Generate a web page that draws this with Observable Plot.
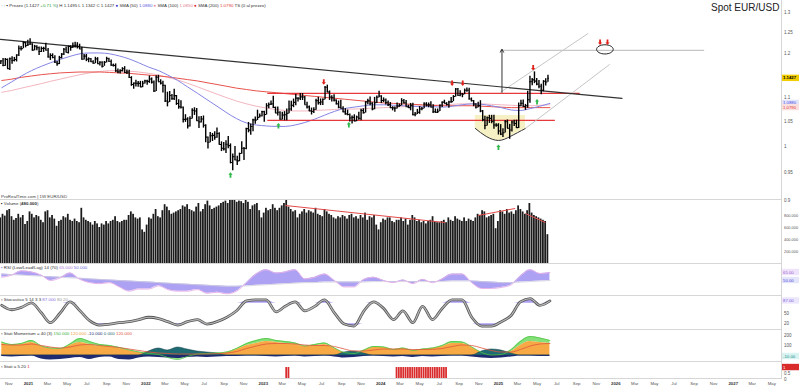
<!DOCTYPE html>
<html><head><meta charset="utf-8">
<script src="https://cdn.jsdelivr.net/npm/d3@7"></script>
<script src="https://cdn.jsdelivr.net/npm/@observablehq/plot@0.6"></script>
<style>
html,body{margin:0;padding:0;background:#fff;}
#c{position:relative;width:799px;height:387px;overflow:hidden;font-family:"Liberation Sans",Arial,sans-serif;}
#c svg{position:absolute;left:0;}
</style></head><body><div id="c"></div>
<script>
// ---------- weekly EUR/USD bars (week of 2020-10-05 .. week of 2025-06-02) ----------
const weekStart = "2020-10-07";
const firstOpen = 1.1780;
const closes = [
1.1826,1.1717,1.1860,1.1647, 1.1876,1.1833,1.1857,1.1962, 1.2121,1.2113,1.2256,1.2187,
1.2216,1.2222,1.2077,1.2170,1.2136, 1.2045,1.2118,1.2119,1.2074, 1.1915,1.1952,1.1904,1.1794, 1.1761,1.1900,1.1983,1.2097,1.2020, 1.2165,1.2143,1.2180,1.2193, 1.2166,1.2105,1.1864,1.1935, 1.1864,1.1874,1.1808,1.1770,1.1870, 1.1762,1.1795,1.1700,1.1794, 1.1880,1.1812,1.1726,1.1719, 1.1596,1.1572,1.1601,1.1645,1.1558, 1.1568,1.1445,1.1290,1.1320, 1.1315,1.1316,1.1238,1.1318,1.1370,
1.1360,1.1412,1.1344,1.1145, 1.1452,1.1350,1.1320,1.1270, 1.0931,1.0910,1.1050,1.0983, 1.1046,1.0877,1.0812,1.0797,1.0545, 1.0550,1.0412,1.0562,1.0734, 1.0718,1.0518,1.0494,1.0553, 1.0425,1.0184,1.0082,1.0212,1.0220, 1.0182,1.0257,1.0038,0.9964, 0.9953,1.0042,1.0015,0.9689,0.9802, 0.9739,0.9722,0.9862,0.9965, 0.9960,1.0355,1.0325,1.0398, 1.0535,1.0530,1.0585,1.0620,1.0705,
1.0645,1.0830,1.0856,1.0869, 1.0795,1.0677,1.0694,1.0548, 1.0635,1.0641,1.0670,1.0760,1.0840, 1.0902,1.0993,1.0990,1.1020, 1.1018,1.0850,1.0805,1.0721, 1.0708,1.0749,1.0940,1.0894,1.0910, 1.0967,1.1228,1.1125,1.1016, 1.1005,1.0949,1.0871,1.0798, 1.0775,1.0700,1.0658,1.0645,1.0573, 1.0587,1.0512,1.0594,1.0565, 1.0730,1.0682,1.0912,1.0940, 1.0882,1.0762,1.0895,1.1012,1.1039,
1.0942,1.0951,1.0898,1.0854, 1.0788,1.0784,1.0777,1.0820, 1.0838,1.0938,1.0890,1.0808,1.0790, 1.0837,1.0643,1.0656,1.0693, 1.0760,1.0771,1.0868,1.0846,1.0849, 1.0801,1.0703,1.0693,1.0713, 1.0841,1.0907,1.0883,1.0855, 1.0911,1.0918,1.1028,1.1192,1.1048, 1.1083,1.1076,1.1163,1.1165, 1.0975,1.0936,1.0866,1.0797, 1.0833,1.0719,1.0540,1.0418,1.0578, 1.0566,1.0502,1.0429,1.0427,
1.0308,1.0244,1.0273,1.0497,1.0362, 1.0328,1.0492,1.0459,1.0375, 1.0833,1.0880,1.0815,1.0830, 1.0960,1.1355,1.1393,1.1366, 1.1298,1.1253,1.1165,1.1364,1.1347, 1.1427];
const highs = [
1.1830,1.1880,1.1880,1.1870, 1.1892,1.1920,1.1905,1.1965, 1.2177,1.2163,1.2273,1.2260,
1.2310,1.2349,1.2230,1.2190,1.2180, 1.2150,1.2150,1.2145,1.2243, 1.2113,1.1990,1.1990,1.1945, 1.1810,1.1930,1.1995,1.2117,1.2150, 1.2172,1.2180,1.2245,1.2266, 1.2254,1.2218,1.2145,1.1975, 1.1975,1.1895,1.1880,1.1830,1.1909, 1.1900,1.1805,1.1805,1.1810, 1.1909,1.1885,1.1845,1.1750, 1.1755,1.1640,1.1624,1.1668,1.1692, 1.1616,1.1610,1.1465,1.1320, 1.1383,1.1355,1.1360,1.1360,1.1386,
1.1385,1.1482,1.1436,1.1370, 1.1483,1.1495,1.1395,1.1365, 1.1275,1.1121,1.1137,1.1070, 1.1185,1.1050,1.0960,1.0936,1.0805, 1.0642,1.0580,1.0600,1.0765, 1.0787,1.0774,1.0601,1.0606, 1.0615,1.0435,1.0186,1.0278,1.0258, 1.0293,1.0368,1.0273,1.0090, 1.0079,1.0114,1.0198,1.0050,0.9854, 0.9999,0.9808,0.9870,1.0094, 0.9977,1.0365,1.0481,1.0448, 1.0545,1.0595,1.0736,1.0658,1.0713,
1.0714,1.0874,1.0887,1.0930, 1.1033,1.0802,1.0805,1.0704, 1.0691,1.0706,1.0760,1.0930,1.0926, 1.0973,1.1075,1.1000,1.1095, 1.1092,1.1030,1.0904,1.0826, 1.0781,1.0790,1.0971,1.1012,1.0976, 1.0973,1.1244,1.1276,1.1149, 1.1046,1.1064,1.0955,1.0930, 1.0945,1.0809,1.0769,1.0737,1.0654, 1.0614,1.0640,1.0612,1.0695, 1.0756,1.0766,1.0914,1.0966, 1.1017,1.0895,1.1009,1.1040,1.1140,
1.1045,1.0998,1.0972,1.0933, 1.0898,1.0808,1.0806,1.0888, 1.0866,1.0981,1.0964,1.0942,1.0841, 1.0879,1.0885,1.0690,1.0753, 1.0812,1.0791,1.0895,1.0895,1.0888, 1.0916,1.0852,1.0761,1.0761, 1.0844,1.0910,1.0948,1.0895, 1.0927,1.1009,1.1047,1.1201,1.1202, 1.1155,1.1093,1.1190,1.1214, 1.1209,1.0996,1.0941,1.0871, 1.0905,1.0937,1.0729,1.0610,1.0596, 1.0630,1.0629,1.0630,1.0456,
1.0456,1.0437,1.0353,1.0521,1.0532, 1.0442,1.0513,1.0528,1.0528, 1.0888,1.0947,1.0955,1.0858, 1.1144,1.1474,1.1423,1.1573, 1.1425,1.1380,1.1294,1.1375,1.1419, 1.1495];
const lows = [
1.1740,1.1690,1.1700,1.1640, 1.1603,1.1745,1.1801,1.1800, 1.1925,1.2059,1.2110,1.2130,
1.2160,1.2190,1.2054,1.2060,1.2060, 1.1952,1.2020,1.2023,1.2060, 1.1892,1.1836,1.1873,1.1762, 1.1704,1.1740,1.1870,1.1950,1.2020, 1.1986,1.2052,1.2115,1.2130, 1.2104,1.2093,1.1847,1.1848, 1.1807,1.1782,1.1795,1.1752,1.1760, 1.1755,1.1706,1.1664,1.1700, 1.1780,1.1800,1.1700,1.1683, 1.1563,1.1529,1.1525,1.1570,1.1535, 1.1513,1.1432,1.1250,1.1186, 1.1235,1.1227,1.1222,1.1221,1.1300,
1.1272,1.1315,1.1300,1.1121, 1.1135,1.1345,1.1280,1.1106, 1.0900,1.0806,1.0900,1.0945, 1.0944,1.0837,1.0757,1.0760,1.0470, 1.0483,1.0350,1.0390,1.0550, 1.0627,1.0513,1.0359,1.0470, 1.0366,1.0072,0.9952,1.0075,1.0097, 1.0123,1.0160,1.0033,0.9900, 0.9910,0.9864,0.9955,0.9665,0.9536, 0.9730,0.9632,0.9705,0.9850, 0.9730,0.9937,1.0270,1.0223, 1.0290,1.0444,1.0520,1.0575,1.0594,
1.0483,1.0634,1.0766,1.0836, 1.0776,1.0668,1.0613,1.0533, 1.0533,1.0516,1.0516,1.0660,1.0712, 1.0789,1.0831,1.0910,1.0940, 1.0942,1.0845,1.0760,1.0707, 1.0635,1.0666,1.0733,1.0844,1.0833, 1.0834,1.0956,1.1111,1.0943, 1.0912,1.0910,1.0845,1.0766, 1.0770,1.0686,1.0632,1.0617,1.0488, 1.0448,1.0496,1.0496,1.0524, 1.0516,1.0656,1.0676,1.0852, 1.0828,1.0723,1.0745,1.0880,1.1000,
1.0877,1.0896,1.0844,1.0813, 1.0777,1.0722,1.0695,1.0760, 1.0796,1.0830,1.0870,1.0802,1.0776, 1.0724,1.0622,1.0601,1.0644, 1.0650,1.0723,1.0765,1.0805,1.0788, 1.0798,1.0668,1.0672,1.0666, 1.0709,1.0792,1.0878,1.0825, 1.0777,1.0881,1.0917,1.1015,1.1040, 1.1025,1.1001,1.1068,1.1120, 1.0950,1.0913,1.0811,1.0761, 1.0790,1.0683,1.0496,1.0332,1.0410, 1.0461,1.0454,1.0343,1.0384,
1.0226,1.0215,1.0178,1.0266,1.0358, 1.0141,1.0285,1.0400,1.0359, 1.0360,1.0808,1.0797,1.0733, 1.0778,1.0885,1.1265,1.1309, 1.1265,1.1194,1.1065,1.1131,1.1255, 1.1342];
// weekly volume, thousands
const volumes = [
760,820,790,880, 900,780,720,750, 820,760,800,650,
700,860,820,760,800, 780,720,680,860, 880,760,800,740, 620,700,720,780,760, 820,720,700,740, 700,680,920,760, 720,700,680,640,700, 660,600,660,640, 700,660,700,720, 780,700,680,700,720, 720,800,860,820, 760,740,760,560,520,
640,760,740,820, 900,780,760,880, 980,940,880,820, 840,860,880,900,960, 940,980,900,880, 860,940,1000,860, 900,980,1040,960,900, 920,940,960,1000, 1020,1040,1000,1050,1050, 1050,1020,1040,1030, 1000,1050,1020,900, 960,980,1000,880,760,
840,920,880,900, 980,920,880,920, 960,1000,1050,940,900, 860,880,760,820, 860,900,840,880, 860,840,920,820,800, 780,900,860,820, 800,760,740,780, 760,800,780,740,800, 820,760,780,740, 800,760,840,720, 780,760,800,640,560,
680,740,720,760, 760,700,680,720, 720,760,700,740,640, 720,800,760,700, 720,680,700,660,700, 720,780,700,680, 680,700,720,680, 760,720,700,780,740, 720,700,760,700, 740,720,700,760, 820,800,880,860,760, 780,800,820,580,
700,880,860,820,900, 840,860,820,880, 960,900,860,820, 880,1000,840,800, 780,760,740,720,700, 480];

// ---------- monthly indicator samples (Oct 2020 .. Jun 2025) ----------
const maBlue = [1.122,1.135,1.148,1.160,1.170, 1.178,1.186,1.193,1.199,1.201, 1.201,1.199,1.194,1.187,1.178, 1.168,1.160,1.150,1.138,1.124, 1.110,1.096,1.082,1.068,1.056, 1.047,1.043,1.041,1.040,1.040, 1.043,1.048,1.055,1.063,1.071, 1.077,1.080,1.083,1.085,1.085, 1.084,1.083,1.082,1.081,1.081, 1.080,1.082,1.085,1.087,1.086, 1.083,1.079,1.074,1.073,1.077, 1.082,1.088];
const maPink = [1.112,1.116,1.121,1.126,1.131, 1.136,1.141,1.146,1.151,1.155, 1.158,1.160,1.160,1.159,1.157, 1.154,1.150,1.145,1.139,1.132, 1.124,1.116,1.108,1.100,1.093, 1.087,1.082,1.078,1.075,1.073, 1.072,1.072,1.073,1.074,1.075, 1.076,1.076,1.077,1.078,1.079, 1.080,1.081,1.082,1.083,1.084, 1.085,1.086,1.087,1.087,1.087, 1.086,1.085,1.084,1.083,1.083, 1.084,1.085];
const maRed = [1.138,1.141,1.145,1.148,1.151, 1.153,1.155,1.156,1.157,1.157, 1.157,1.156,1.155,1.154,1.152, 1.150,1.148,1.146,1.143,1.140, 1.137,1.133,1.129,1.125,1.121, 1.118,1.115,1.113,1.111,1.109, 1.107,1.105,1.103,1.101,1.099, 1.097,1.095,1.093,1.091,1.089, 1.088,1.087,1.086,1.085,1.084, 1.083,1.083,1.083,1.083,1.082, 1.081,1.080,1.079,1.079,1.079, 1.079,1.079];
const rsiLine = [56,60,68,66,60, 50,55,64,52,46, 44,46,38,30,34, 34,40,33,30,30, 33,26,28,25,30, 46,62,70,64,66, 70,53,56,62,50, 38,38,52,56,50, 46,51,44,52,46, 53,62,62,46,35, 35,37,42,58,70, 63,65];
const rsiRef = [62,61,60,59,58, 57,56,55,54,53, 52,51,50,49,48, 47,46,45,44,43, 42,41,40,39,39, 40,41,42,43,44, 45,46,46,47,47, 47,47,47,48,48, 48,48,48,48,48, 48,49,49,49,48, 47,46,46,47,48, 49,50];
const stoch = [74,61,68,81,52, 23,52,84,58,29, 16,19,23,26,32, 39,35,26,16,26, 32,19,26,39,58, 87,90,90,55,71, 84,58,71,90,52, 19,13,58,84,65, 32,58,23,71,32, 65,90,90,39,13, 13,26,45,84,94, 74,87];
const momOrange = [120,100,110,130,90, 70,60,100,130,110, 90,90,70,50,30, 20,10,10,20,10, 20,20,20,30,60, 100,120,140,130,120, 110,90,100,110,70, 30,20,50,80,80, 60,70,50,60,70, 90,120,120,80,30, 10,10,40,100,140, 130,120];
const momGreen = [135,110,120,150,95, 75,70,115,170,140, 110,100,80,55,35, 20,10,-20,-40,-10, 15,20,25,35,70, 120,150,170,150,140, 125,95,110,125,75, 30,20,55,90,85, 60,75,50,65,75, 100,140,135,85,30, 5,10,60,140,190, 175,150];
const momNavy = [-10,-15,-10,-5,-35, -45,-40,-30,-20,-40, -20,-15,-40,-45,-25, -15,-20,-25,-30,-20, -15,-20,-15,-10,-10, -5,-5,-10,-15,-10, -5,-15,-10,-5,-15, -25,-20,-10,-5,-10, -15,-10,-20,-10,-15, -10,-5,-5,-15,-25, -30,-25,-15,-5,-5, -10,-10];
const momTeal = [0,0,0,0,0, 0,0,0,0,0, 0,0,0,0,0, 40,70,50,80,60, 40,30,20,0,0, 0,0,0,0,0, 0,0,0,0,0, 30,40,20,0,0, 0,0,0,0,0, 0,0,0,0,40, 60,50,20,0,0, 0,0];
const momRed = [110,105,105,115,100, 85,75,85,105,110, 100,90,80,65,50, 35,25,20,15,15, 15,15,18,25,40, 70,95,115,120,120, 115,105,100,100,90, 65,45,45,55,65, 65,65,60,60,62, 70,90,105,100,75, 50,35,35,60,95, 115,120];
const signalRanges = [["2023-03-13","2023-03-26"],["2024-02-19","2024-07-28"]];

// ---------- drawings on the price panel ----------
const trendLine = [{date:"2020-10-06", p:1.2334},{date:"2026-01-20", p:1.0987}];
const hLines = [{a:"2023-01-15", b:"2025-09-12", p:1.1095},{a:"2023-01-15", b:"2025-06-27", p:1.0523}];
const targetLine = [{a:"2025-01-07", b:"2026-10-04", p:1.2071}];
const channels = [{a:"2025-01-07", pa:1.1117, b:"2025-10-07", pb:1.248},{a:"2025-03-26", pa:1.0359, b:"2025-12-13", pb:1.1745}];
const breakoutArrow = [{date:"2025-01-12", from:1.1117, to:1.2095}];
const targetEllipse = [{date:"2025-11-28", p:1.2095}];
const redMarks = [{date:"2023-07-08",p:1.134},{date:"2024-08-10",p:1.1315},{date:"2024-09-12",p:1.1315},{date:"2025-04-19",p:1.166},{date:"2025-11-13",p:1.226},{date:"2025-12-06",p:1.226}];
const greenMarks = [{date:"2022-09-21",p:0.946},{date:"2023-02-17",p:1.042},{date:"2023-09-24",p:1.044},{date:"2025-01-01",p:0.999},{date:"2025-05-01",p:1.092}];
const cupArc = [{date:"2024-10-21",p:1.0359,top:1.0627},{date:"2024-11-24",p:1.0198,top:1.0627},{date:"2025-01-01",p:1.0118,top:1.0627},{date:"2025-02-07",p:1.0198,top:1.0627},{date:"2025-03-26",p:1.0359,top:1.0627}];
const volTrend = [{a:"2023-03-10",va:967,b:"2024-07-19",vb:683},{a:"2024-10-30",va:800,b:"2025-02-22",vb:917},{a:"2025-03-26",va:833,b:"2025-05-27",vb:683}];

// ---------- tick labels ----------
const priceTicks = [1.3,1.25,1.2,1.1,1.05,1,0.95,0.9];
const volTicks = [200,400,600,800];
const momTicks = [200,100];
const stochTicks = [50,20];
const sigTicks = [0.5,0];
const monthAbbr = ["Jan","Feb","Mar","Apr","May","Jun","Jul","Aug","Sep","Oct","Nov","Dec"];
const lastPrice = 1.1427;

// ---------- build ----------
const DAY = 864e5;
const X0 = new Date("2020-10-06"), X1 = new Date("2027-05-31");
const W = 799, MR = 18, FONT = "Liberation Sans, Arial, sans-serif";
const D = s => new Date(s);
const weeks = closes.map((c,i)=>({date:new Date(+D(weekStart)+i*7*DAY), open:i?closes[i-1]:firstOpen, high:highs[i], low:lows[i], close:c, volume:volumes[i]}));
const months = maBlue.map((v,i)=>({date:new Date(Date.UTC(2020,9+i,10)), blue:v, pink:maPink[i], red:maRed[i], rsi:rsiLine[i], ref:rsiRef[i], stoch:stoch[i],
  ora:momOrange[i], grn:momGreen[i], navy:momNavy[i], teal:momTeal[i], mred:momRed[i]}));
const inSignal = d => signalRanges.some(([a,b]) => d.date >= D(a) && d.date <= D(b));
const curve = "monotone-x";
const root = document.getElementById("c");

const ellipseSym = {draw(c){const rx=8.3, ry=4.6, k=0.5523;
  c.moveTo(-rx,0); c.bezierCurveTo(-rx,-ry*k,-rx*k,-ry,0,-ry); c.bezierCurveTo(rx*k,-ry,rx,-ry*k,rx,0);
  c.bezierCurveTo(rx,ry*k,rx*k,ry,0,ry); c.bezierCurveTo(-rx*k,ry,-rx,ry*k,-rx,0); c.closePath();}};
const arrowDown = {draw(c){c.moveTo(-0.9,-3);c.lineTo(0.9,-3);c.lineTo(0.9,0);c.lineTo(2.1,0);c.lineTo(0,2.5);c.lineTo(-2.1,0);c.lineTo(-0.9,0);c.closePath();}};
const arrowUp = {draw(c){c.moveTo(-0.9,3);c.lineTo(0.9,3);c.lineTo(0.9,0);c.lineTo(2.1,0);c.lineTo(0,-2.5);c.lineTo(-2.1,0);c.lineTo(-0.9,0);c.closePath();}};

function base(h, y, marks){
  return {width:W, height:h, marginTop:0, marginBottom:0, marginLeft:0, marginRight:MR,
    x:{type:"utc", domain:[X0,X1], axis:null}, y:{...y, axis:null},
    style:{fontFamily:FONT, fontSize:"5px", overflow:"visible", background:"transparent"}, marks};
}
function place(svg, top){ svg.style.top = top+"px"; svg.style.position="absolute"; root.appendChild(svg); svg._top = top; return svg; }
// right-hand tick labels, positioned by the panel's y scale
const rAxis = (ticks, fmt, fs=4.5) => Plot.text(ticks, {y:d=>d, text:fmt, frameAnchor:"right", dx:2.5, textAnchor:"start", fontSize:fs, fill:"#555"});

// price panel
const price = place(Plot.plot(base(200, {type:"log", domain:[0.8995,1.331]}, [
  Plot.areaY(cupArc, {x:d=>D(d.date), y1:"top", y2:"p", fill:"#f6f1c4", curve:"natural"}),
  Plot.line(cupArc, {x:d=>D(d.date), y:"p", stroke:"#333", strokeWidth:1, curve:"natural"}),
  Plot.line(months, {x:"date", y:"pink", stroke:"#f3b6c0", strokeWidth:1, curve}),
  Plot.line(months, {x:"date", y:"red", stroke:"#e8524c", strokeWidth:1, curve}),
  Plot.line(months, {x:"date", y:"blue", stroke:"#8585e6", strokeWidth:1, curve}),
  Plot.ruleY(hLines, {y:"p", x1:d=>D(d.a), x2:d=>D(d.b), stroke:"#e8383a", strokeWidth:1.3}),
  Plot.ruleY(targetLine, {y:"p", x1:d=>D(d.a), x2:d=>D(d.b), stroke:"#c6c6c6", strokeWidth:1.4}),
  Plot.link(channels, {x1:d=>D(d.a), y1:"pa", x2:d=>D(d.b), y2:"pb", stroke:"#c6c6c6", strokeWidth:1}),
  Plot.line(trendLine, {x:d=>D(d.date), y:"p", stroke:"#333", strokeWidth:1.2}),
  Plot.arrow(breakoutArrow, {x1:d=>D(d.date), x2:d=>D(d.date), y1:"from", y2:"to", stroke:"#333", strokeWidth:1, headLength:5, bend:0}),
  Plot.dot(targetEllipse, {x:d=>D(d.date), y:"p", symbol:ellipseSym, r:3, stroke:"#222", fill:"none", strokeWidth:1}),
  Plot.ruleX(weeks, {x:"date", y1:"low", y2:"high", stroke:"#000", strokeWidth:1.4}),
  Plot.ruleY(weeks, {y:"open", x1:d=>new Date(+d.date-3.6*DAY), x2:"date", stroke:"#000", strokeWidth:1.1}),
  Plot.ruleY(weeks, {y:"close", x1:"date", x2:d=>new Date(+d.date+3.6*DAY), stroke:"#000", strokeWidth:1.1}),
  Plot.dot(redMarks, {x:d=>D(d.date), y:"p", symbol:arrowDown, r:2, fill:"#e3221d"}),
  Plot.dot(greenMarks, {x:d=>D(d.date), y:"p", symbol:arrowUp, r:2, fill:"#2fb84a"}),
  rAxis(priceTicks, d=>String(d))
])), 0);

// volume panel
const vol = place(Plot.plot(base(64, {domain:[0,1050], range:[63,0]}, [
  Plot.rectY(weeks, {x1:d=>new Date(+d.date-3*DAY), x2:d=>new Date(+d.date+2.5*DAY), y1:0, y2:"volume", fill:"#1b1b1b"}),
  Plot.link(volTrend, {x1:d=>D(d.a), y1:"va", x2:d=>D(d.b), y2:"vb", stroke:"#e24a4a", strokeWidth:1}),
  rAxis(volTicks, d=>d+".000", 3.9)
])), 200);

// RSI panel
const rsiP = place(Plot.plot(base(32, {domain:[20,80]}, [
  Plot.areaY(months, {x:"date", y1:"ref", y2:"rsi", fill:"#a497f2", fillOpacity:0.9, curve}),
  Plot.line(months, {x:"date", y:"ref", stroke:"#cfcfdc", strokeWidth:0.8, curve}),
  Plot.line(months, {x:"date", y:"rsi", stroke:"#e6b3ea", strokeWidth:1, curve})
])), 264);

// Stochastic panel
const stP = place(Plot.plot(base(34, {domain:[0,100]}, [
  Plot.areaY(months, {x:"date", y1:80, y2:d=>Math.max(d.stoch,80), fill:"#ae9ff3", curve}),
  Plot.areaY(months, {x:"date", y1:d=>Math.min(d.stoch,20), y2:20, fill:"#ae9ff3", curve}),
  Plot.line(months, {x:"date", y:"stoch", stroke:"#555", strokeWidth:2.8, curve}),
  Plot.line(months, {x:"date", y:"stoch", stroke:"#b8b8b8", strokeWidth:1.2, curve}),
  rAxis(stochTicks, d=>String(d))
])), 296);

// Momentum panel
const moP = place(Plot.plot(base(32, {domain:[-70,250]}, [
  Plot.areaY(months, {x:"date", y1:"ora", y2:"grn", fill:"#86e07a", curve}),
  Plot.areaY(months, {x:"date", y1:0, y2:"ora", fill:"#f6a944", curve}),
  Plot.areaY(months, {x:"date", y1:0, y2:"teal", fill:"#1f6b73", stroke:"#0f3a44", strokeWidth:0.5, curve}),
  Plot.areaY(months, {x:"date", y1:"navy", y2:0, fill:"#1f2b70", curve}),
  Plot.line(months, {x:"date", y:"grn", stroke:"#4fc444", strokeWidth:0.8, curve}),
  Plot.line(months, {x:"date", y:"mred", stroke:"#e0573c", strokeWidth:0.8, curve}),
  rAxis(momTicks, d=>String(d))
])), 330);

// Signal panel
const sgP = place(Plot.plot(base(17, {domain:[0,1.42]}, [
  Plot.rectY(weeks.filter(inSignal), {x1:d=>new Date(+d.date-3*DAY), x2:d=>new Date(+d.date+2.5*DAY), y1:0, y2:1, fill:"#d92b2b"}),
  rAxis(sigTicks, d=>String(d))
])), 362);

// x axis labels
const xTicks = d3.utcMonth.every(2).range(X0, X1);
place(Plot.plot(base(8, {domain:[0,1]}, [
  Plot.text(xTicks.filter(d=>d.getUTCMonth()!==0), {x:d=>d, text:d=>monthAbbr[d.getUTCMonth()], frameAnchor:"middle", fontSize:4.3, fill:"#555"}),
  Plot.text(xTicks.filter(d=>d.getUTCMonth()===0), {x:d=>d, text:d=>String(d.getUTCFullYear()), frameAnchor:"middle", fontSize:4.3, fill:"#333", fontWeight:"bold"})
])), 379);

// ---------- overlay: separators, title, legends, value tags ----------
const ov = d3.create("svg").attr("width",W).attr("height",387).style("position","absolute").style("top","0px").style("left","0px")
  .style("font-family",FONT);
root.appendChild(ov.node());
[199.5,263.5,295.5,329.5,361.5,378.5].forEach(y=>ov.append("line").attr("x1",0).attr("x2",781).attr("y1",y).attr("y2",y).attr("stroke","#d6d6d6").attr("stroke-width",1));
ov.append("line").attr("x1",781.5).attr("x2",781.5).attr("y1",0).attr("y2",379).attr("stroke","#d6d6d6");
ov.append("text").attr("x",711).attr("y",10.8).attr("font-size",10).attr("fill","#222").text("Spot EUR/USD");

function legend(x, y, parts){
  const t = ov.append("text").attr("x",x).attr("y",y).attr("font-size",4.4).attr("fill","#333");
  parts.forEach(([s,c,w])=>t.append("tspan").attr("fill",c||"#333").attr("font-weight",w||null).text(s));
}
function tag(svg, v, text, bg, fg, bold){
  const y = svg._top + svg.scale("y").apply(v);
  ov.append("rect").attr("x",782).attr("y",y-3.2).attr("width",17).attr("height",6.4).attr("fill",bg);
  ov.append("text").attr("x",783).attr("y",y+1.6).attr("font-size",4.3).attr("fill",fg).attr("font-weight",bold?"bold":null).text(text);
}
const last = a => a[a.length-1];
legend(1, 6.5, [["◦ ◦ ","#999"],["▪ ","#000"],["Prezzo (1.1427 ","#333"],["+0.71 %","#2a9d3a"],[") H 1.1495 L 1.1342 C 1.1427  ","#333"],["● ","#2b2bd0"],["SMA (50) ","#333"],[last(maBlue).toFixed(4),"#5a5ae0"],["  ● ","#f08aa0"],["SMA (100) ","#333"],[last(maPink).toFixed(4),"#e07a90"],["  ● ","#e02020"],["SMA (200) ","#333"],[last(maRed).toFixed(4),"#e03a3a"],["  TS (0 al prezzo)","#333"]]);
legend(1, 197.5, [["ProRealTime.com | 1W EUR/USD","#444"]]);
legend(1, 204.5, [["▪ ","#000"],["Volume (","#333"],[last(volumes)+".000","#333","bold"],[")","#333"]]);
legend(1, 269, [["▪ ","#8a7cf0"],["RSI (Low/Lead/Lag) 14 (70)  ","#333"],[last(rsiLine).toFixed(3),"#b07ad0"],["  "+last(rsiRef).toFixed(3),"#6f6fe0"]]);
legend(1, 301, [["▫ Stocastico 5 14 3 3  ","#333"],[last(stoch).toFixed(3),"#8a6fe0"],["  80  20","#999"]]);
legend(1, 334.5, [["▫ Stati Momentum = 40 (3)  ","#333"],[last(momGreen).toFixed(3),"#3cb043"],["  "+last(momOrange).toFixed(3),"#f0a040"],["  "+last(momNavy).toFixed(3),"#1f2f75"],["  "+last(momTeal).toFixed(3),"#1f6b73"],["  "+last(momRed).toFixed(3),"#e0573c"]]);
legend(1, 367.5, [["▫ Stati a 5.20  ","#333"],["1","#d92b2b"]]);

// value tags on the right axis, placed with each panel's own y scale
tag(price, lastPrice, lastPrice.toFixed(4), "#f2cd00", "#000", true);
tag(price, last(maBlue), last(maBlue).toFixed(4), "#e4e4fb", "#4a4ae0");
tag(price, last(maRed), last(maRed).toFixed(4), "#fbe0e0", "#e03a3a");
tag(rsiP, last(rsiLine), last(rsiLine).toFixed(2), "#efe3fb", "#a060d0");
tag(rsiP, last(rsiRef), last(rsiRef).toFixed(2), "#e4e4fb", "#4a4ae0");
tag(stP, last(stoch), last(stoch).toFixed(2), "#ece6fd", "#7a5fe0");
tag(moP, last(momNavy), last(momNavy).toFixed(2), "#d8f3f1", "#1f8a8a");
tag(sgP, 1, "1", "#d92b2b", "#fff");
</script>
</body></html>
